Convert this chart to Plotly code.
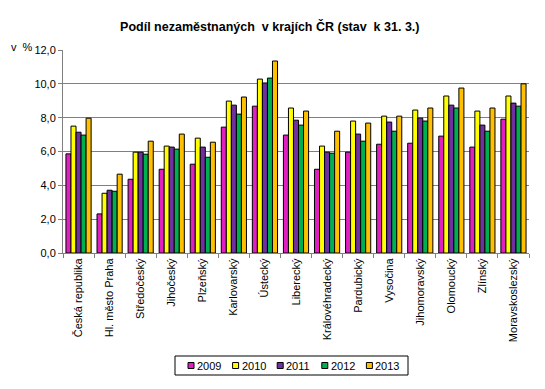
import plotly.graph_objects as go

regions = ["Česká republika", "Hl. město Praha", "Středočeský", "Jihočeský", "Plzeňský",
           "Karlovarský", "Ústecký", "Liberecký", "Královéhradecký", "Pardubický",
           "Vysočina", "Jihomoravský", "Olomoucký", "Zlínský", "Moravskoslezský"]

years = ["2009", "2010", "2011", "2012", "2013"]
colors = ["#E020C0", "#FFFF00", "#7030A0", "#00B050", "#FFC000"]

v2009 = [5.86, 2.31, 4.36, 4.95, 5.25, 7.44, 8.68, 6.97, 4.95, 5.96, 6.43, 6.49, 6.91, 6.26, 7.91]
v2010 = [7.50, 3.53, 5.96, 6.32, 6.79, 8.98, 10.28, 8.57, 6.32, 7.80, 8.09, 8.45, 9.28, 8.39, 9.28]
v2011 = [7.14, 3.71, 5.96, 6.26, 6.26, 8.74, 10.05, 7.85, 5.96, 7.03, 7.74, 7.97, 8.74, 7.56, 8.86]
v2012 = [6.97, 3.65, 5.84, 6.14, 5.66, 8.21, 10.34, 7.56, 5.90, 6.61, 7.20, 7.80, 8.57, 7.20, 8.68]
v2013 = [7.97, 4.66, 6.61, 7.03, 6.55, 9.22, 11.35, 8.39, 7.20, 7.68, 8.09, 8.57, 9.75, 8.57, 10.00]

values = [v2009, v2010, v2011, v2012, v2013]

W, H = 545, 389
ML, MR, MT, MB = 63, 16, 50, 136
PW, PH = W - ML - MR, H - MT - MB

def px2x(px):
    return (px - ML) / PW

def px2y(py):
    return (H - MB - py) / PH

fig = go.Figure()
for name, vals, col in zip(years, values, colors):
    fig.add_trace(go.Bar(x=regions, y=vals, name=name, marker_color=col,
                         marker_line_color="black", marker_line_width=1))

font = "Liberation Sans, Arial, sans-serif"
fig.update_layout(
    width=W, height=H,
    margin=dict(l=ML, r=MR, t=MT, b=MB, autoexpand=False),
    paper_bgcolor="white", plot_bgcolor="white",
    barmode="group", bargap=0.19, bargroupgap=0,
    separators=", ",
    font=dict(family=font, size=11, color="black"),
    title=dict(text="<b>Podíl nezaměstnaných  v krajích ČR (stav  k 31. 3.)</b>",
               x=0.495, xanchor="center", y=1 - 27 / H, yanchor="middle",
               font=dict(family=font, size=12.5, color="black")),
    xaxis=dict(tickangle=-90, tickson="boundaries", ticks="outside", ticklen=4,
               tickcolor="#808080", showline=True, linecolor="#808080", linewidth=1,
               tickfont=dict(family=font, size=11, color="black"), showgrid=False,
               automargin=False),
    yaxis=dict(range=[0, 12], dtick=2, tickformat=".1f", showgrid=True, gridcolor="#808080",
               gridwidth=1, showline=True, linecolor="#808080", ticks="outside", ticklen=4,
               tickcolor="#808080", zeroline=False, automargin=False,
               tickfont=dict(family=font, size=11, color="black")),
    showlegend=False,
)
fig.add_annotation(text="v  %", xref="paper", yref="paper", x=px2x(22), y=px2y(47),
                   xanchor="center", yanchor="middle", showarrow=False,
                   font=dict(family=font, size=11, color="black"))

# legend box drawn to match the compact reference legend
fig.add_shape(type="rect", xref="paper", yref="paper",
              x0=px2x(175), x1=px2x(408), y0=px2y(375), y1=px2y(356),
              line=dict(color="black", width=1), fillcolor="white")
for i, (name, col) in enumerate(zip(years, colors)):
    sx = 188 + i * 44.6
    cy = 365.5
    fig.add_shape(type="rect", xref="paper", yref="paper",
                  x0=px2x(sx), x1=px2x(sx + 6), y0=px2y(cy + 3), y1=px2y(cy - 3),
                  line=dict(color="black", width=1), fillcolor=col)
    fig.add_annotation(text=name, xref="paper", yref="paper", x=px2x(sx + 7), y=px2y(cy),
                       xanchor="left", yanchor="middle", showarrow=False,
                       font=dict(family=font, size=11, color="black"))

fig.write_html("out.html", config={"displayModeBar": False},
               post_script="document.body.style.margin='0';")
